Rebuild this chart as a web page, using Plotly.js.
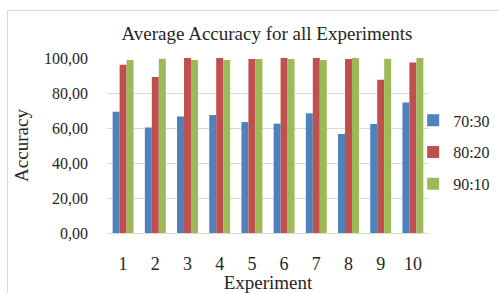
<!DOCTYPE html>
<html>
<head>
<meta charset="utf-8">
<script src="https://cdn.plot.ly/plotly-3.0.1.min.js"></script>
<style>
html,body{margin:0;padding:0;background:#fff;}
#wrap{position:relative;width:499px;height:293px;overflow:hidden;}
#frame{position:absolute;left:7px;top:10px;width:600px;height:400px;border:1px solid #d9d9d9;box-sizing:border-box;pointer-events:none;}
#chart{position:absolute;left:0;top:0;width:499px;height:293px;}
</style>
</head>
<body>
<div id="wrap">
<div id="frame"></div>
<div id="chart"></div>
</div>
<script>
const experiments = ['1','2','3','4','5','6','7','8','9','10'];
const series70_30 = [69.3, 60.3, 66.6, 67.4, 63.4, 62.5, 68.4, 56.6, 62.3, 74.6];
const series80_20 = [96.2, 89.1, 100.0, 100.0, 99.4, 100.0, 100.0, 99.4, 87.6, 97.5];
const series90_10 = [98.8, 99.6, 98.8, 98.8, 99.4, 99.4, 98.8, 100.0, 99.6, 100.0];
const seriesNames = ['70:30', '80:20', '90:10'];
const colors = ['#4F81BD', '#C0504D', '#9BBB59'];

const font = '"Liberation Serif", "Times New Roman", serif';
const ink = '#262626';
const data = [series70_30, series80_20, series90_10].map((vals, i) => ({
  type: 'bar', x: experiments, y: vals, name: seriesNames[i], legendgroup: 'g' + i,
  marker: {color: colors[i], line: {width: 0}}
}));

const layout = {
  width: 499, height: 293,
  margin: {l: 107, r: 70, t: 58, b: 60, autoexpand: false},
  paper_bgcolor: 'rgba(0,0,0,0)', plot_bgcolor: '#fff',
  separators: ',.',
  font: {family: font, color: ink, size: 16},
  title: {text: 'Average Accuracy for all Experiments', font: {family: font, size: 19, color: ink},
          x: 0.535, xanchor: 'center', y: 0.885, yanchor: 'middle'},
  barmode: 'group', bargap: 0.35, bargroupgap: 0,
  xaxis: {type: 'category', showgrid: false, showline: true, linecolor: '#d9d9d9', linewidth: 1,
          ticks: '', ticklabelstandoff: 14, tickfont: {family: font, size: 18, color: ink},
          title: {text: 'Experiment', font: {family: font, size: 19, color: ink}, standoff: 4}},
  yaxis: {range: [0, 100], dtick: 20, tickformat: '.2f', showgrid: true, gridcolor: '#d9d9d9', gridwidth: 1,
          zeroline: false, showline: false, ticks: '', ticklabelstandoff: 18,
          tickfont: {family: font, size: 16, color: ink},
          title: {text: 'Accuracy', font: {family: font, size: 19, color: ink}, standoff: 10}},
  legend: {xref: 'container', yref: 'container', x: 0.828, xanchor: 'left', y: 0.48, yanchor: 'middle',
           bgcolor: 'rgba(0,0,0,0)', traceorder: 'grouped', tracegroupgap: 8,
           font: {family: font, size: 16, color: ink}, itemwidth: 30},
  showlegend: true
};
Plotly.newPlot('chart', data, layout, {displayModeBar: false, staticPlot: true});
</script>
</body>
</html>
